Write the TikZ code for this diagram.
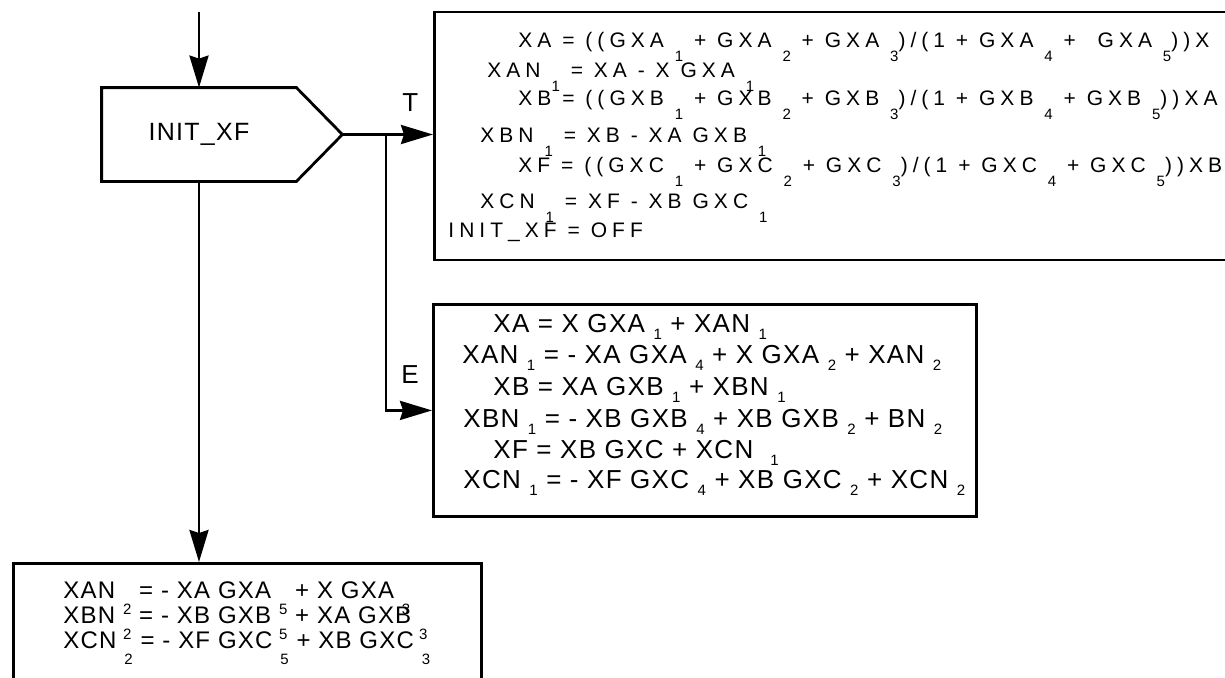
\documentclass[tikz,border=0pt]{standalone}
\usepackage{fontspec}
\setmainfont{Liberation Sans}[LetterSpace=5]
\newfontfamily\widefont{Liberation Sans}[LetterSpace=24]
\usepackage{tikz}
\usetikzlibrary{arrows.meta, positioning}

\newlength{\subdrop}
\newcommand{\lo}[1]{\raisebox{-\subdrop}{\fontsize{7.5}{8}\selectfont #1}}

\begin{document}
\begin{tikzpicture}[
    x=0.5pt, y=-0.5pt,
    flowline/.style={line width=1.4pt},
    arrow/.style={-{Stealth[length=16pt, width=9.5pt, inset=1.5pt]}, line width=1.4pt},
    eqbox/.style={
        rectangle,
        draw,
        line width=1.4pt,
        anchor=north west,
        inner sep=0pt
    },
    eqtop/.style={anchor=base west, inner sep=0pt, font=\widefont\fontsize{10.5}{12}\selectfont\setlength{\subdrop}{7pt}},
    eqmid/.style={anchor=base west, inner sep=0pt, font=\fontsize{13}{15}\selectfont\setlength{\subdrop}{3.5pt}},
    eqlow/.style={anchor=base west, inner sep=0pt, font=\fontsize{12}{14}\selectfont\setlength{\subdrop}{8pt}},
    branch/.style={inner sep=0pt, font=\fontsize{13}{15}\selectfont}
]
\clip (0,0) rectangle (1225,677);

\node[minimum width=97pt, minimum height=46.5pt, inner sep=0pt,
      font=\fontsize{12.5}{14}\selectfont] (init) at (199,134.5) {INIT\_XF};
\coordinate (initpt) at ([xshift=23pt]init.east);
\coordinate (entry) at (199,12);
\coordinate (split) at (386,134.5);

\node[eqbox, minimum width=403.5pt, minimum height=124pt] (tbox) at (433,10.5) {};
\node[eqbox, minimum width=271.5pt, minimum height=106pt] (ebox) at (432,303) {};
\node[eqbox, minimum width=234pt, minimum height=70pt] (bbox) at (12,562) {};

\node[eqtop] (ta1) at (518,47) {XA = ((GXA \lo{1} + GXA \lo{2} + GXA \lo{3})/(1 + GXA \lo{4} + \ GXA \lo{5}))X};
\node[eqtop] (ta2) at (487,77) {XAN \lo{1} = XA - X GXA \lo{1}};
\node[eqtop] (ta3) at (518,105) {XB = ((GXB \lo{1} + GXB \lo{2} + GXB \lo{3})/(1 + GXB \lo{4} + GXB \lo{5}))XA};
\node[eqtop] (ta4) at (480,142) {XBN \lo{1} = XB - XA GXB \lo{1}};
\node[eqtop] (ta5) at (518,172) {XF = ((GXC \lo{1} + GXC \lo{2} + GXC \lo{3})/(1 + GXC \lo{4} + GXC \lo{5}))XB};
\node[eqtop] (ta6) at (480,208) {XCN \lo{1} = XF - XB GXC \lo{1}};
\node[eqtop] (ta7) at (448,237) {INIT\_XF = OFF};

\node[eqmid] (tb1) at (493,332) {XA = X GXA \lo{1} + XAN \lo{1}};
\node[eqmid] (tb2) at (462,363) {XAN \lo{1} = - XA GXA \lo{4} + X GXA \lo{2} + XAN \lo{2}};
\node[eqmid] (tb3) at (493,395) {XB = XA GXB \lo{1} + XBN \lo{1}};
\node[eqmid] (tb4) at (463,427) {XBN \lo{1} = - XB GXB \lo{4} + XB GXB \lo{2} + BN \lo{2}};
\node[eqmid] (tb5) at (493,458) {XF = XB GXC + XCN \ \lo{1}};
\node[eqmid] (tb6) at (463,488) {XCN \lo{1} = - XF GXC \lo{4} + XB GXC \lo{2} + XCN \lo{2}};

\node[eqlow] (tc1) at (63,598) {XAN \lo{2} = - XA GXA \lo{5} + X GXA \lo{3}};
\node[eqlow] (tc2) at (63,623) {XBN \lo{2} = - XB GXB \lo{5} + XA GXB \lo{3}};
\node[eqlow] (tc3) at (63,648) {XCN \lo{2} = - XF GXC \lo{5} + XB GXC \lo{3}};

\draw[flowline] (init.north west) -- (init.north east) -- (initpt) -- (init.south east) -- (init.south west) -- cycle;

\draw[arrow] (entry) -- (init.north);
\draw[arrow] (initpt) -- node[branch, pos=0.75, above=11pt] (tlabel) {T} (tbox.west |- initpt);
\draw[arrow] (split) |- node[branch, pos=0.76, above=13pt] (elabel) {E} (ebox.west);
\draw[arrow] (init.south) -- (init.south |- bbox.north);
\end{tikzpicture}
\end{document}
